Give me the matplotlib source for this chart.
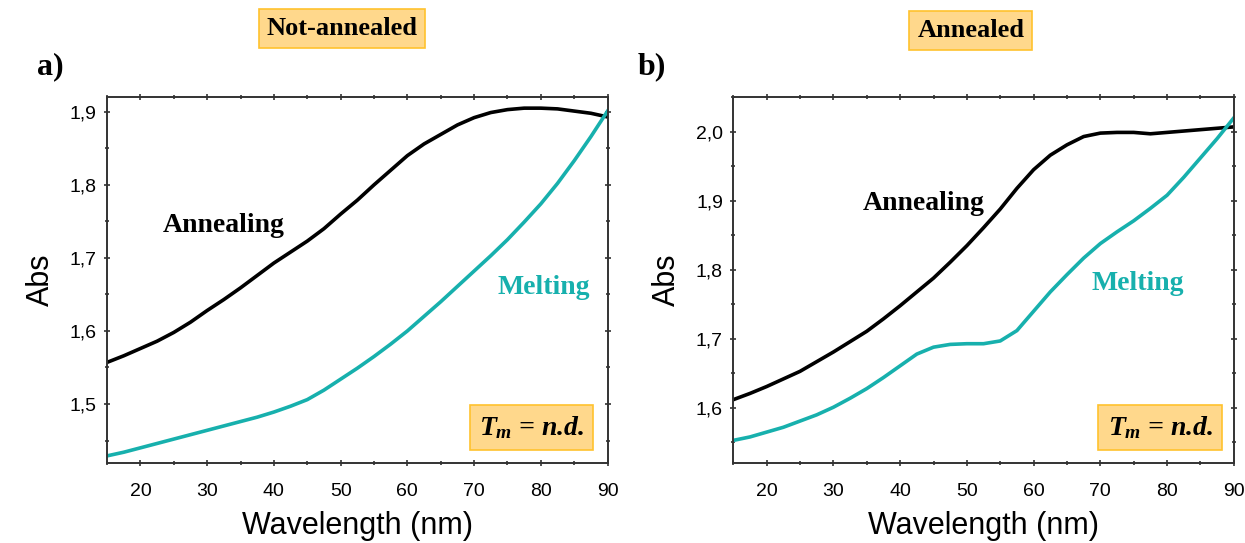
import matplotlib
matplotlib.use('Agg')
from matplotlib import pyplot as plt
from matplotlib.ticker import MultipleLocator, FuncFormatter

plt.rcParams['font.family'] = ['Liberation Sans', 'DejaVu Sans']
plt.rcParams['mathtext.fontset'] = 'custom'
plt.rcParams['mathtext.it'] = 'Liberation Serif:italic:bold'
plt.rcParams['mathtext.rm'] = 'Liberation Serif:bold'

TEAL = '#17b0ad'

# panel a) not-annealed
wl_a = [15, 17.5, 20, 22.5, 25, 27.5, 30, 32.5, 35, 37.5, 40, 42.5, 45, 47.5,
        50, 52.5, 55, 57.5, 60, 62.5, 65, 67.5, 70, 72.5, 75, 77.5, 80, 82.5,
        85, 87.5, 90]
anneal_a = [1.557, 1.566, 1.576, 1.586, 1.598, 1.612, 1.628, 1.643, 1.659, 1.676,
            1.693, 1.708, 1.723, 1.740, 1.760, 1.779, 1.800, 1.820, 1.840, 1.856,
            1.869, 1.882, 1.892, 1.899, 1.903, 1.905, 1.905, 1.904, 1.901, 1.898,
            1.893]
melt_a = [1.429, 1.434, 1.440, 1.446, 1.452, 1.458, 1.464, 1.470, 1.476, 1.482,
          1.489, 1.497, 1.506, 1.519, 1.534, 1.549, 1.565, 1.582, 1.600, 1.620,
          1.640, 1.661, 1.682, 1.703, 1.725, 1.749, 1.774, 1.802, 1.833, 1.866,
          1.901]

# panel b) annealed
wl_b = [15, 17.5, 20, 22.5, 25, 27.5, 30, 32.5, 35, 37.5, 40, 42.5, 45, 47.5,
        50, 52.5, 55, 57.5, 60, 62.5, 65, 67.5, 70, 72.5, 75, 77.5, 80, 82.5,
        85, 87.5, 90]
anneal_b = [1.612, 1.621, 1.631, 1.642, 1.653, 1.667, 1.681, 1.696, 1.711, 1.729,
            1.748, 1.768, 1.788, 1.811, 1.835, 1.861, 1.888, 1.918, 1.945, 1.966,
            1.981, 1.993, 1.998, 1.999, 1.999, 1.997, 1.999, 2.001, 2.003, 2.005,
            2.007]
melt_b = [1.553, 1.558, 1.565, 1.572, 1.581, 1.590, 1.601, 1.614, 1.628, 1.644,
          1.661, 1.678, 1.688, 1.692, 1.693, 1.693, 1.697, 1.712, 1.740, 1.768,
          1.793, 1.817, 1.838, 1.855, 1.871, 1.889, 1.908, 1.934, 1.962, 1.990,
          2.020]


def comma(v, pos):
    return ('%.1f' % v).replace('.', ',')


def setup_axes(ax, ylim):
    ax.set_xlim(15, 90)
    ax.set_ylim(*ylim)
    ax.xaxis.set_major_locator(MultipleLocator(10))
    ax.xaxis.set_minor_locator(MultipleLocator(5))
    ax.yaxis.set_major_locator(MultipleLocator(0.1))
    ax.yaxis.set_minor_locator(MultipleLocator(0.05))
    ax.yaxis.set_major_formatter(FuncFormatter(comma))
    ax.tick_params(which='both', direction='out', labelsize=14,
                   color='#333333', width=1.2)
    ax.tick_params(which='major', length=5)
    ax.tick_params(which='minor', length=3)
    ax.tick_params(axis='x', pad=12)
    ax.tick_params(axis='y', pad=5)
    ax.tick_params(which='both', top=True, right=True, direction='inout')
    for s in ax.spines.values():
        s.set_linewidth(1.4)
        s.set_color('#333333')
    ax.set_xlabel('Wavelength (nm)', fontsize=22, labelpad=8)
    ax.set_ylabel('Abs', fontsize=22, labelpad=10)


def box_text(fig, x, y, s, size, pad, **kw):
    fig.text(x, y, s, fontsize=size, ha='center', va='center',
             family='Liberation Serif', fontweight='bold',
             bbox=dict(boxstyle='square,pad=%.2f' % pad, fc='#ffd88c',
                       ec='#ffc22e', lw=1.2),
             **kw)


fig = plt.figure(figsize=(12.45, 5.43), dpi=100)
ax1 = fig.add_axes([0.086, 0.147, 0.402, 0.674])
ax2 = fig.add_axes([0.589, 0.147, 0.402, 0.674])

ax1.plot(wl_a, anneal_a, color='black', lw=2.6)
ax1.plot(wl_a, melt_a, color=TEAL, lw=2.6)
setup_axes(ax1, (1.419, 1.920))

ax2.plot(wl_b, anneal_b, color='black', lw=2.6)
ax2.plot(wl_b, melt_b, color=TEAL, lw=2.6)
setup_axes(ax2, (1.520, 2.050))

serif = dict(family='Liberation Serif', fontweight='bold', fontsize=20, va='center')
ax1.text(0.112, 0.650, 'Annealing', transform=ax1.transAxes, color='black', **serif)
ax1.text(0.780, 0.481, 'Melting', transform=ax1.transAxes, color=TEAL, **serif)
ax2.text(0.258, 0.710, 'Annealing', transform=ax2.transAxes, color='black', **serif)
ax2.text(0.716, 0.492, 'Melting', transform=ax2.transAxes, color=TEAL, **serif)

box_text(fig, 0.2747, 0.947, 'Not-annealed', 19, 0.3)
box_text(fig, 0.7798, 0.944, 'Annealed', 19, 0.3)
box_text(fig, 0.427, 0.213, r'$T_m$ = n.d.', 20, 0.33, fontstyle='italic')
box_text(fig, 0.932, 0.213, r'$T_m$ = n.d.', 20, 0.33, fontstyle='italic')

fig.text(0.030, 0.878, 'a)', fontsize=23, family='Liberation Serif',
         fontweight='bold', va='center')
fig.text(0.512, 0.878, 'b)', fontsize=23, family='Liberation Serif',
         fontweight='bold', va='center')

fig.savefig('out.png', dpi=100)
